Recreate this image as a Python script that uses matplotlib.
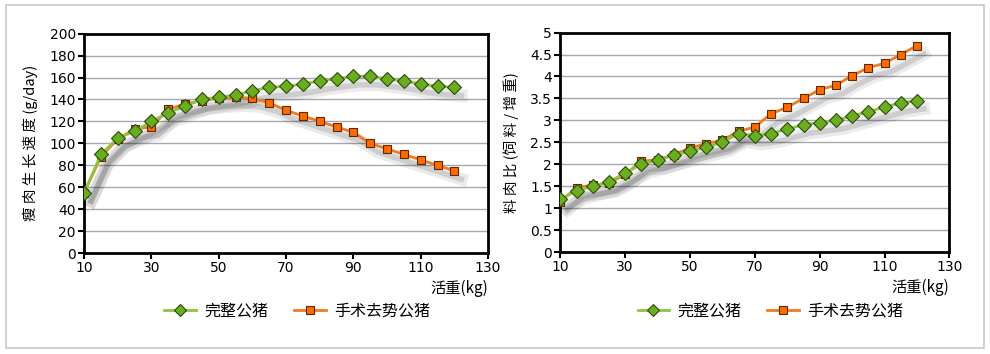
import matplotlib
matplotlib.use("Agg")
import matplotlib.pyplot as plt
import matplotlib.patheffects as pe
from matplotlib.patches import Rectangle
from matplotlib.lines import Line2D

plt.rcParams['font.family'] = ['DejaVu Sans', 'Noto Sans CJK SC']

weight = [10, 15, 20, 25, 30, 35, 40, 45, 50, 55, 60, 65, 70, 75, 80, 85, 90, 95, 100, 105, 110, 115, 120]

# lean growth rate (g/day)
growth_intact = [55, 90, 105, 111, 120, 128, 134, 140, 142, 144, 148, 151, 152, 154, 157, 159, 161, 161, 159, 157, 154, 152, 151]
growth_castr = [55, 88, 104, 113, 115, 131, 136, 139, 141, 142, 141, 137, 130, 125, 120, 115, 110, 100, 95, 90, 85, 80, 75]

# feed conversion ratio
fcr_intact = [1.2, 1.4, 1.5, 1.6, 1.8, 2.0, 2.1, 2.2, 2.3, 2.4, 2.5, 2.7, 2.65, 2.7, 2.8, 2.9, 2.95, 3.0, 3.1, 3.2, 3.3, 3.4, 3.45]
fcr_castr = [1.15, 1.47, 1.52, 1.57, 1.77, 2.07, 2.1, 2.22, 2.37, 2.47, 2.55, 2.75, 2.85, 3.15, 3.3, 3.5, 3.7, 3.8, 4.02, 4.2, 4.3, 4.5, 4.7]

series_names = ['完整公猪', '手术去势公猪']
xticks = [10, 30, 50, 70, 90, 110, 130]

GREEN_LINE = '#8cc63f'
GREEN_FILL = '#6aad1f'
ORANGE_LINE = '#f47a20'
ORANGE_FILL = '#ff6a00'
CJK = ['Noto Sans CJK SC', 'DejaVu Sans']

fig = plt.figure(figsize=(9.9, 3.54), dpi=100)
fig.patches.append(Rectangle((0.006, 0.017), 0.988, 0.968, transform=fig.transFigure,
                             fill=False, edgecolor='#c8c8c8', linewidth=1.2))

shadow = [pe.SimpleLineShadow(offset=(5, -6), shadow_color='black', alpha=0.08, linewidth=9),
          pe.SimpleLineShadow(offset=(5, -6), shadow_color='black', alpha=0.12, linewidth=4)]


def draw_panel(ax, y1, y2, ylim, ystep, yticks_fmt, ylabel):
    # soft drop shadow under each series
    for y in (y2, y1):
        sh, = ax.plot(weight, y, color='none', lw=2, zorder=2)
        sh.set_path_effects(shadow)
    ax.plot(weight, y2, color=ORANGE_LINE, lw=2, marker='s', ms=6,
            mfc=ORANGE_FILL, mec='#5a2a00', mew=0.8, zorder=3)
    ax.plot(weight, y1, color=GREEN_LINE, lw=2, marker='D', ms=7,
            mfc=GREEN_FILL, mec='#2d4a10', mew=0.8, zorder=4)
    ax.set_xlim(10, 130)
    ax.set_ylim(*ylim)
    ax.set_xticks(xticks)
    yt = []
    v = ylim[0]
    while v <= ylim[1] + 1e-9:
        yt.append(v)
        v += ystep
    ax.set_yticks(yt)
    ax.set_yticklabels([yticks_fmt(t) for t in yt])
    ax.grid(axis='y', color='#a8a8b0', lw=1)
    ax.set_axisbelow(True)
    for s in ax.spines.values():
        s.set_linewidth(2)
        s.set_color('black')
    ax.tick_params(direction='out', length=4, width=1.5, labelsize=10, pad=2)
    ax.set_ylabel(ylabel, family=CJK, fontsize=10.5, labelpad=8)
    ax.text(1.0, -0.16, '活重(kg)', transform=ax.transAxes, ha='right', va='center',
            family=CJK, fontsize=11)


ax1 = fig.add_axes([0.085, 0.285, 0.408, 0.62])
draw_panel(ax1, growth_intact, growth_castr, (0, 200), 20, lambda t: '%d' % t,
           '瘦 肉 生 长 速 度 (g/day)')

ax2 = fig.add_axes([0.566, 0.288, 0.393, 0.62])
draw_panel(ax2, fcr_intact, fcr_castr, (0, 5), 0.5, lambda t: ('%g' % t),
           '料 肉 比 (饲 料 / 增 重)')

handles = [
    Line2D([], [], color=GREEN_LINE, lw=2, marker='D', ms=6, mfc=GREEN_FILL, mec='#2d4a10', mew=0.8),
    Line2D([], [], color=ORANGE_LINE, lw=2, marker='s', ms=6, mfc=ORANGE_FILL, mec='#5a2a00', mew=0.8),
]
for cx in (0.30, 0.778):
    fig.legend(handles, series_names, loc='center', bbox_to_anchor=(cx, 0.122),
               ncol=2, frameon=False, prop={'family': CJK, 'size': 11.5},
               handlelength=2.0, columnspacing=1.6, handletextpad=0.5)

fig.savefig('out.png', dpi=100)
